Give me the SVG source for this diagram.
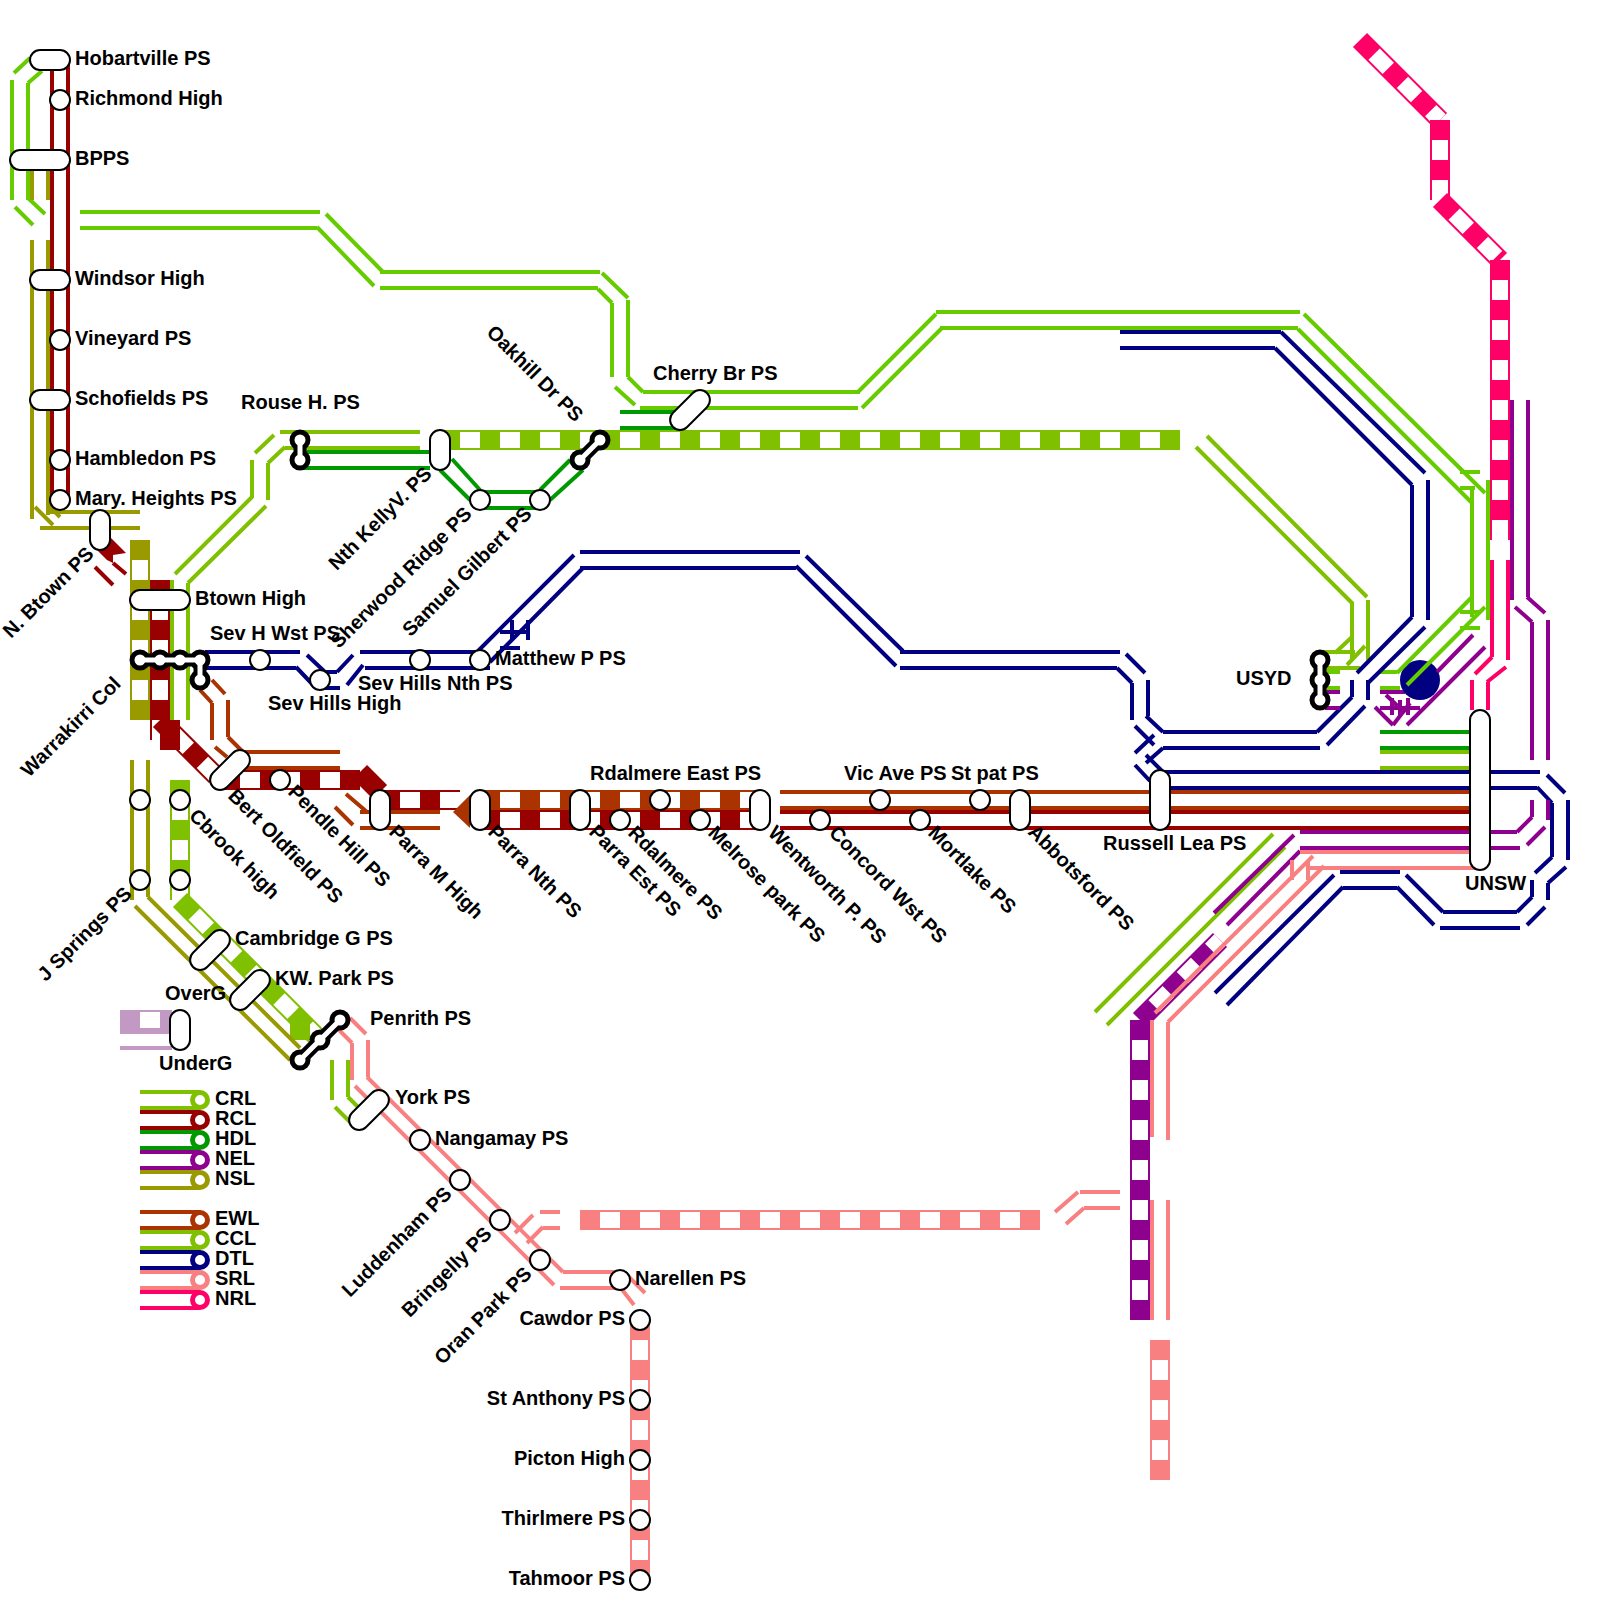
<svg xmlns="http://www.w3.org/2000/svg" width="1600" height="1600" viewBox="0 0 1600 1600">
<style>
text{font-family:"Liberation Sans",Arial,sans-serif;font-weight:bold;font-size:20px;fill:#000}
.e{text-anchor:end}
path{fill:none;stroke-width:4}
.t{stroke-width:20}
.w{stroke-width:16;stroke:#fff;stroke-dasharray:20 20;stroke-dashoffset:20}
.crl{stroke:#7fc000}.ccl{stroke:#66cc00}.rcl{stroke:#990000}.hdl{stroke:#009900}.nel{stroke:#8e008e}
.nsl{stroke:#999900}.ewl{stroke:#aa3300}.dtl{stroke:#000080}.srl{stroke:#f88080}.nrl{stroke:#ff0066}.ug{stroke:#c299c2}
.s{fill:#fff;stroke:#000;stroke-width:2}
.bk{stroke:#000;stroke-width:13;stroke-linecap:round}
.bw{stroke:#fff;stroke-width:5;stroke-linecap:round}
.bc{fill:#fff;stroke:#000;stroke-width:5}
.r{stroke-width:5;fill:#fff}
</style>
<g id="connectors">
<!-- thick surface sections -->
<path class="t nsl" d="M140 540V720"/><path class="w" d="M140 540V720"/>
<path class="t rcl" d="M160 580V720"/><path class="w" d="M160 580V720"/>
<path class="t crl" d="M440 440H1180"/><path class="w" d="M440 440H1180"/>
<path class="t crl" d="M180 780V900"/><path class="w" d="M180 780V900"/>
<path class="t crl" d="M180 900L320 1040"/><path class="w" d="M180 900L320 1040"/>
<path class="t crl" d="M300 1020V1040"/>
<path class="t rcl" d="M160 720L216 776"/><path class="w" d="M160 720L216 776"/>
<path class="t rcl" d="M170 720V750"/>
<path class="rcl" style="stroke-width:2" d="M151 720V740"/>
<path class="t rcl" d="M220 780H360"/><path class="w" d="M220 780H360"/>
<path class="t rcl" d="M360 772L380 792"/>
<path class="t rcl" d="M380 800H460"/><path class="w" d="M380 800H460"/>
<path class="t ewl" d="M480 800H760"/><path class="w" d="M480 800H760"/>
<path class="t rcl" d="M480 820H760"/><path class="w" d="M480 820H760"/>
<polygon points="453,812 470,795 470,828" fill="#aa3300"/>
<path class="t nrl" d="M1360 40L1440 120"/><path class="w" d="M1360 40L1440 120"/>
<path class="t nrl" d="M1440 120V200"/><path class="w" d="M1440 120V200"/>
<path class="t nrl" d="M1440 200L1500 260"/><path class="w" d="M1440 200L1500 260"/>
<path class="t nrl" d="M1500 260V540"/><path class="w" d="M1500 260V540"/>
<path class="t nel" d="M1140 1020V1320"/><path class="w" d="M1140 1020V1320"/>
<path class="t nel" d="M1140 1020L1220 940"/><path class="w" d="M1140 1020L1220 940"/>
<path class="t srl" d="M580 1220H1040"/><path class="w" d="M580 1220H1040"/>
<path class="t srl" d="M640 1320V1580"/><path class="w" d="M640 1320V1580"/>
<path class="t srl" d="M1160 1340V1480"/><path class="w" d="M1160 1340V1480"/>
<path class="t ug" d="M120 1020H172"/><path class="w" d="M120 1020H160"/>
<path class="ug" d="M120 1032H172M120 1048H172"/>
<!-- RCL tunnel -->
<path class="rcl" d="M52 60V510M68 60V500"/>
<path class="rcl" d="M95 567L113 585M113 563L126 574"/>
<polygon points="110,537 126,553 113,555 113,563 107,560 97,550" fill="#990000"/>
<path class="rcl" d="M780 812H1480M780 828H1480"/>
<!-- CCL -->
<path class="ccl" d="M14 73L30 58M28 83L42 71M12 80V200M28 83V200M28 198L45 214M15 207L33 225"/>
<path class="ccl" d="M80 212H320M80 228H317M326 214L383 272M317 227L374 286M380 272H600M380 288H598"/>
<path class="ccl" d="M602 273L628 298M598 289L612 303M612 303V377M628 300V377M628 377L643 392M615 387L635 405M643 392H860M640 408H858"/>
<path class="ccl" d="M858 392L936 314M862 408L942 328M936 312H1300M940 328H1298"/>
<path class="ccl" d="M1304 314L1485 493M1298 329L1473 504M1472 488V617M1488 480V620M1460 472H1480M1460 488H1475M1460 612H1480M1460 628H1480"/>
<path class="ccl" d="M1325 672H1340M1325 688H1340M1380 672H1397M1380 688H1400"/>
<!-- NSL -->
<path class="nsl" d="M32 170V200M48 170V200M32 240V519M48 240V515M35 507L53 525M48 505L60 517M48 512H140M40 528H140"/>
<path class="nsl" d="M132 760V900M148 760V897M148 897L300 1048M135 906L290 1060"/>
<!-- CRL tunnel -->
<path class="crl" d="M280 432H420M285 448H420M274 435L255 453M285 447L268 463M252 460V498M268 463V500M252 497L175 574M266 506L188 583M172 580V720M188 583V720"/>
<path class="crl" d="M1207 436L1367 597M1196 447L1353 604M1352 603V660M1368 600V660M1352 637L1335 653M1365 646L1347 665M1320 652H1355M1325 668H1360"/>
<path class="crl" d="M1380 752H1480M1380 768H1480"/>
<path class="crl" d="M1273 834L1095 1012M1285 847L1107 1025"/>
<path class="crl" d="M332 1060V1100M348 1060V1097M348 1097L358 1107M335 1107L350 1122"/>
<!-- HDL -->
<path class="hdl" d="M300 452H430M300 468H430M452 459L480 490M440 470L470 500M480 492H540M480 508H540M540 490L570 460M550 500L583 470"/>
<path class="hdl" d="M620 412H680M620 428H680M1380 732H1480M1380 748H1480"/>
<!-- EWL -->
<path class="ewl" d="M212 680L225 694M200 690L212 703M212 703V740M228 700V737M228 737L243 752M215 747L227 757M243 752H340M240 768H340"/>
<path class="ewl" d="M346 794L367 812M335 807L353 825M360 812H440M360 828H440M780 792H1480M780 808H1480"/>
<!-- DTL -->
<path class="dtl" d="M1120 332H1281M1120 348H1275M1281 332L1425 473M1275 348L1412 485M1412 485V617M1428 480V620M1412 617L1357 673M1425 627L1368 683M1352 680V697M1368 680V700M1352 697L1317 732M1365 706L1327 745"/>
<path class="dtl" d="M1163 732H1317M1163 748H1320M1163 732L1146 716M1163 748L1146 763M1135 726L1154 745M1135 753L1154 735M1146 755L1163 772M1135 765L1150 781M1132 683V720M1148 680V716M1117 668L1132 683M1126 654L1145 673"/>
<path class="dtl" d="M900 652H1120M900 668H1117M806 556L903 651M796 566L896 666M580 552H800M580 568H796M574 555L478 651M583 568L490 662M360 652H478M365 668H490"/>
<path class="dtl" d="M353 655L337 672M363 665L347 685M325 672H337M325 688H340M307 655L325 672M296 667L315 687M205 652H300M205 668H296"/>
<path class="dtl" d="M500 632H530M500 648H520M512 620V640M528 620V640"/>
<path class="dtl" d="M1163 772H1540M1170 788H1537M1547 775L1565 793M1537 787L1552 803M1552 803V857M1568 800V860M1552 857L1535 873M1566 867L1548 883M1532 880V897M1548 883V900M1532 897L1517 912M1545 907L1527 925M1443 912H1517M1440 928H1520M1443 912L1406 875M1434 925L1397 887M1340 872H1400M1343 888H1397M1334 875L1215 993M1343 887L1227 1005"/>
<!-- NEL -->
<path class="nel" d="M1325 692H1340M1325 708H1340M1380 692H1405M1380 708H1420M1375 707L1393 725M1386 695L1405 713M1393 725L1410 703M1392 698V715M1400 700V716M1408 698V715"/>
<circle cx="1420" cy="680" r="20" fill="#000080"/>
<path class="nel" d="M1473 635L1437 672M1485 647L1407 725"/>
<path class="ccl" d="M1472 597L1397 673M1485 607L1407 685"/>
<path class="nel" d="M1512 400V600M1528 400V597M1527 597L1545 613M1515 607L1532 622M1532 622V760M1548 620V760M1532 800V817M1548 800V820M1532 817L1517 832M1545 827L1527 845M1300 832H1517M1300 848H1520M1294 835L1214 913M1300 851L1227 925"/>
<!-- SRL -->
<path class="srl" d="M1300 852H1480M1307 868H1480M1292 860V880M1308 860V880M1313 856L1155 1013M1324 866L1168 1022M1152 1020V1137M1168 1022V1140M1152 1200V1320M1168 1200V1320"/>
<path class="srl" d="M350 1018L366 1034M339 1030L352 1043M352 1043V1080M368 1040V1077M367 1077L563 1272M355 1086L554 1285M563 1272H620M560 1288H620M625 1273L645 1293M620 1287L634 1305"/>
<path class="srl" d="M540 1212H560M543 1228H560M533 1215L515 1233M543 1227L527 1243M1055 1212L1078 1192M1066 1224L1084 1208M1080 1192H1120M1084 1208H1120"/>
<!-- NRL -->
<path class="nrl" d="M1492 560V657M1508 560V660M1492 657L1475 674M1506 667L1487 682M1472 680V710M1488 682V710"/>
</g>
<g id="Hobartville"><rect class="s" x="30" y="50" width="40" height="20" rx="10"/><text x="75" y="65">Hobartville PS</text></g>
<g id="RichmondHigh"><circle class="s" cx="60" cy="100" r="10"/><text x="75" y="105">Richmond High</text></g>
<g id="BPPS"><rect class="s" x="10" y="150" width="60" height="20" rx="10"/><text x="75" y="165">BPPS</text></g>
<g id="WindsorHigh"><rect class="s" x="30" y="270" width="40" height="20" rx="10"/><text x="75" y="285">Windsor High</text></g>
<g id="Vineyard"><circle class="s" cx="60" cy="340" r="10"/><text x="75" y="345">Vineyard PS</text></g>
<g id="Schofields"><rect class="s" x="30" y="390" width="40" height="20" rx="10"/><text x="75" y="405">Schofields PS</text></g>
<g id="Hambledon"><circle class="s" cx="60" cy="460" r="10"/><text x="75" y="465">Hambledon PS</text></g>
<g id="MaryHeights"><circle class="s" cx="60" cy="500" r="10"/><text x="75" y="505">Mary. Heights PS</text></g>
<g id="NBtown"><rect class="s" x="90" y="510" width="20" height="40" rx="10"/><text class="e" transform="translate(95 555) rotate(-45)">N. Btown PS</text></g>
<g id="BtownHigh"><rect class="s" x="130" y="590" width="60" height="20" rx="10"/><text x="195" y="605">Btown High</text></g>
<g id="Warrakirri"><path class="bk" d="M140 660H200V680"/><circle class="bc" cx="140" cy="660" r="8"/><circle class="bc" cx="160" cy="660" r="8"/><circle class="bc" cx="180" cy="660" r="8"/><circle class="bc" cx="200" cy="660" r="8"/><circle class="bc" cx="200" cy="680" r="8"/><path class="bw" d="M140 660H200V680"/><text class="e" transform="translate(122 685) rotate(-45)">Warrakirri Col</text></g>
<g id="RouseH"><path class="bk" d="M300 440V460"/><circle class="bc" cx="300" cy="440" r="8"/><circle class="bc" cx="300" cy="460" r="8"/><path class="bw" d="M300 440V460"/><text x="241" y="409">Rouse H. PS</text></g>
<g id="NthKellyV"><rect class="s" x="430" y="430" width="20" height="40" rx="10"/><text class="e" transform="translate(433 475) rotate(-45)">Nth KellyV. PS</text></g>
<g id="SherwoodRidge"><circle class="s" cx="480" cy="500" r="10"/><text class="e" transform="translate(473 515) rotate(-45)">Sherwood Ridge PS</text></g>
<g id="SamuelGilbert"><circle class="s" cx="540" cy="500" r="10"/><text class="e" transform="translate(533 515) rotate(-45)">Samuel Gilbert PS</text></g>
<g id="Oakhill"><path class="bk" d="M600 440L580 460"/><circle class="bc" cx="600" cy="440" r="8"/><circle class="bc" cx="580" cy="460" r="8"/><path class="bw" d="M600 440L580 460"/><text class="e" transform="translate(575 423) rotate(45)">Oakhill Dr PS</text></g>
<g id="CherryBr"><rect class="s" x="666" y="400" width="48" height="20" rx="10" transform="rotate(-45 690 410)"/><text x="653" y="380">Cherry Br PS</text></g>
<g id="SevHWst"><circle class="s" cx="260" cy="660" r="10"/><text x="210" y="640">Sev H Wst PS</text></g>
<g id="SevHillsHigh"><circle class="s" cx="320" cy="680" r="10"/><text x="268" y="710">Sev Hills High</text></g>
<g id="SevHillsNth"><circle class="s" cx="420" cy="660" r="10"/><text x="358" y="690">Sev Hills Nth PS</text></g>
<g id="MatthewP"><circle class="s" cx="480" cy="660" r="10"/><text x="495" y="665">Matthew P PS</text></g>
<g id="BertOldfield"><rect class="s" x="206" y="760" width="48" height="20" rx="10" transform="rotate(-45 230 770)"/><text transform="translate(227 797) rotate(45)">Bert Oldfield PS</text></g>
<g id="PendleHill"><circle class="s" cx="280" cy="780" r="10"/><text transform="translate(287 793) rotate(45)">Pendle Hill PS</text></g>
<g id="ParraM"><rect class="s" x="370" y="790" width="20" height="40" rx="10"/><text transform="translate(388 833) rotate(45)">Parra M High</text></g>
<g id="ParraNth"><rect class="s" x="470" y="790" width="20" height="40" rx="10"/><text transform="translate(487 833) rotate(45)">Parra Nth PS</text></g>
<g id="ParraEst"><rect class="s" x="570" y="790" width="20" height="40" rx="10"/><text transform="translate(588 833) rotate(45)">Parra Est PS</text></g>
<g id="Rdalmere"><circle class="s" cx="620" cy="820" r="10"/><text transform="translate(627 834) rotate(45)">Rdalmere PS</text></g>
<g id="RdalmereEast"><circle class="s" cx="660" cy="800" r="10"/><text x="590" y="780">Rdalmere East PS</text></g>
<g id="Melrose"><circle class="s" cx="700" cy="820" r="10"/><text transform="translate(707 834) rotate(45)">Melrose park PS</text></g>
<g id="Wentworth"><rect class="s" x="750" y="790" width="20" height="40" rx="10"/><text transform="translate(767 834) rotate(45)">Wentworth P. PS</text></g>
<g id="ConcordWst"><circle class="s" cx="820" cy="820" r="10"/><text transform="translate(828 834) rotate(45)">Concord Wst PS</text></g>
<g id="VicAve"><circle class="s" cx="880" cy="800" r="10"/><text x="844" y="780">Vic Ave PS</text></g>
<g id="Mortlake"><circle class="s" cx="920" cy="820" r="10"/><text transform="translate(927 834) rotate(45)">Mortlake PS</text></g>
<g id="StPat"><circle class="s" cx="980" cy="800" r="10"/><text x="951" y="780">St pat PS</text></g>
<g id="Abbotsford"><rect class="s" x="1010" y="790" width="20" height="40" rx="10"/><text transform="translate(1027 833) rotate(45)">Abbotsford PS</text></g>
<g id="RussellLea"><rect class="s" x="1150" y="770" width="20" height="60" rx="10"/><text x="1103" y="850">Russell Lea PS</text></g>
<g id="USYD"><path class="bk" d="M1320 660V700"/><circle class="bc" cx="1320" cy="660" r="8"/><circle class="bc" cx="1320" cy="680" r="8"/><circle class="bc" cx="1320" cy="700" r="8"/><path class="bw" d="M1320 660V700"/><text x="1236" y="685">USYD</text></g>
<g id="UNSW"><rect class="s" x="1470" y="710" width="20" height="160" rx="10"/><text x="1465" y="890">UNSW</text></g>
<g id="Cbrook"><circle class="s" cx="180" cy="800" r="10"/><circle class="s" cx="180" cy="880" r="10"/><text transform="translate(188 817) rotate(45)">Cbrook high</text></g>
<g id="JSprings"><circle class="s" cx="140" cy="800" r="10"/><circle class="s" cx="140" cy="880" r="10"/><text class="e" transform="translate(133 895) rotate(-45)">J Springs PS</text></g>
<g id="CambridgeG"><rect class="s" x="186" y="940" width="48" height="20" rx="10" transform="rotate(-45 210 950)"/><text x="235" y="945">Cambridge G PS</text></g>
<g id="KWPark"><rect class="s" x="226" y="980" width="48" height="20" rx="10" transform="rotate(-45 250 990)"/><text x="275" y="985">KW. Park PS</text></g>
<g id="Penrith"><path class="bk" d="M340 1020L300 1060"/><circle class="bc" cx="340" cy="1020" r="8"/><circle class="bc" cx="320" cy="1040" r="8"/><circle class="bc" cx="300" cy="1060" r="8"/><path class="bw" d="M340 1020L300 1060"/><text x="370" y="1025">Penrith PS</text></g>
<g id="OverUnderG"><rect class="s" x="170" y="1010" width="20" height="40" rx="10"/><text x="165" y="1000">OverG</text><text x="159" y="1070">UnderG</text></g>
<g id="York"><rect class="s" x="345" y="1100" width="48" height="20" rx="10" transform="rotate(-45 369 1110)"/><text x="395" y="1104">York PS</text></g>
<g id="Nangamay"><circle class="s" cx="420" cy="1140" r="10"/><text x="435" y="1145">Nangamay PS</text></g>
<g id="Luddenham"><circle class="s" cx="460" cy="1180" r="10"/><text class="e" transform="translate(453 1195) rotate(-45)">Luddenham PS</text></g>
<g id="Bringelly"><circle class="s" cx="500" cy="1220" r="10"/><text class="e" transform="translate(493 1235) rotate(-45)">Bringelly PS</text></g>
<g id="OranPark"><circle class="s" cx="540" cy="1260" r="10"/><text class="e" transform="translate(533 1275) rotate(-45)">Oran Park PS</text></g>
<g id="Narellen"><circle class="s" cx="620" cy="1280" r="10"/><text x="635" y="1285">Narellen PS</text></g>
<g id="Cawdor"><circle class="s" cx="640" cy="1320" r="10"/><text class="e" x="625" y="1325">Cawdor PS</text></g>
<g id="StAnthony"><circle class="s" cx="640" cy="1400" r="10"/><text class="e" x="625" y="1405">St Anthony PS</text></g>
<g id="Picton"><circle class="s" cx="640" cy="1460" r="10"/><text class="e" x="625" y="1465">Picton High</text></g>
<g id="Thirlmere"><circle class="s" cx="640" cy="1520" r="10"/><text class="e" x="625" y="1525">Thirlmere PS</text></g>
<g id="Tahmoor"><circle class="s" cx="640" cy="1580" r="10"/><text class="e" x="625" y="1585">Tahmoor PS</text></g>
<g id="legend">
<path class="crl" d="M140 1092H200M140 1108H200"/><circle class="r crl" cx="200" cy="1100" r="7.5"/><text x="215" y="1105">CRL</text>
<path class="rcl" d="M140 1112H200M140 1128H200"/><circle class="r rcl" cx="200" cy="1120" r="7.5"/><text x="215" y="1125">RCL</text>
<path class="hdl" d="M140 1132H200M140 1148H200"/><circle class="r hdl" cx="200" cy="1140" r="7.5"/><text x="215" y="1145">HDL</text>
<path class="nel" d="M140 1152H200M140 1168H200"/><circle class="r nel" cx="200" cy="1160" r="7.5"/><text x="215" y="1165">NEL</text>
<path class="nsl" d="M140 1172H200M140 1188H200"/><circle class="r nsl" cx="200" cy="1180" r="7.5"/><text x="215" y="1185">NSL</text>
<path class="ewl" d="M140 1212H200M140 1228H200"/><circle class="r ewl" cx="200" cy="1220" r="7.5"/><text x="215" y="1225">EWL</text>
<path class="crl" d="M140 1232H200M140 1248H200"/><circle class="r crl" cx="200" cy="1240" r="7.5"/><text x="215" y="1245">CCL</text>
<path class="dtl" d="M140 1252H200M140 1268H200"/><circle class="r dtl" cx="200" cy="1260" r="7.5"/><text x="215" y="1265">DTL</text>
<path class="srl" d="M140 1272H200M140 1288H200"/><circle class="r srl" cx="200" cy="1280" r="7.5"/><text x="215" y="1285">SRL</text>
<path class="nrl" d="M140 1292H200M140 1308H200"/><circle class="r nrl" cx="200" cy="1300" r="7.5"/><text x="215" y="1305">NRL</text>
</g>
</svg>
